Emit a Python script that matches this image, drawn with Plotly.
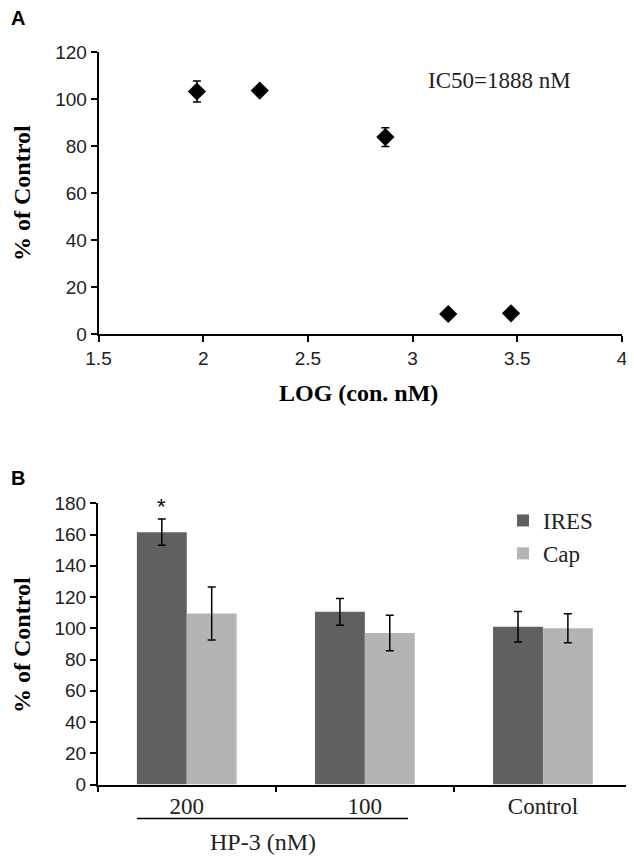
import plotly.graph_objects as go

# Panel A data
log_conc = [1.97, 2.27, 2.87, 3.17, 3.47]
pct_control_a = [103.2, 103.6, 83.8, 8.5, 8.8]
err_a = [4.5, 1.5, 4.0, 0.8, 0.8]
ic50_label = "IC50=1888 nM"

# Panel B data
categories_b = ["200", "100", "Control"]
ires_vals = [161.5, 110.5, 101.0]
ires_err = [8.4, 8.6, 9.8]
cap_vals = [109.5, 97.0, 100.0]
cap_err = [17.0, 11.4, 9.3]
series_names = ["IRES", "Cap"]

W, H = 634, 859
OFF = 8  # page body margin
def px(x):
    return (x - OFF) / W
def py(y):
    return 1 - (y - OFF) / H

SERIF = "Liberation Serif, Times New Roman, serif"
SANS = "Liberation Sans, Arial, sans-serif"
IRES_C = "#606060"
CAP_C = "#b4b4b4"

fig = go.Figure()

fig.add_trace(go.Scatter(
    x=log_conc, y=pct_control_a, mode="markers",
    marker=dict(symbol="diamond", size=14, color="black"),
    error_y=dict(type="data", array=err_a, color="black", thickness=1.5, width=4),
    xaxis="x", yaxis="y", showlegend=False))

fig.add_trace(go.Bar(
    x=categories_b, y=ires_vals, name=series_names[0], marker=dict(color=IRES_C, line=dict(width=0)),
    error_y=dict(type="data", array=ires_err, color="black", thickness=1.5, width=4),
    xaxis="x2", yaxis="y2"))
fig.add_trace(go.Bar(
    x=categories_b, y=cap_vals, name=series_names[1], marker=dict(color=CAP_C, line=dict(width=0)),
    error_y=dict(type="data", array=cap_err, color="black", thickness=1.5, width=4),
    xaxis="x2", yaxis="y2"))

axis_common = dict(showgrid=False, zeroline=False, showline=True, linecolor="black", linewidth=1.5,
                   ticks="outside", ticklen=6, tickwidth=1.5, tickcolor="black", automargin=False,
                   tickfont=dict(family=SANS, size=19, color="#222"))

fig.update_layout(
    width=W, height=H, margin=dict(l=0, r=0, t=0, b=0, autoexpand=False),
    paper_bgcolor="white", plot_bgcolor="white",
    barmode="group", bargap=0.44, bargroupgap=0,
    xaxis=dict(domain=[px(98.5), px(622)], range=[1.5, 4], dtick=0.5, tick0=1.5,
               anchor="y", **axis_common),
    yaxis=dict(domain=[py(334), py(52)], range=[0, 120], dtick=20, anchor="x", **axis_common),
    xaxis2=dict(domain=[px(97.7), px(632)], anchor="y2", type="category", tickson="boundaries",
                range=[-0.5, len(categories_b) - 0.5],
                **{**axis_common, "tickfont": dict(family=SERIF, size=23, color="#222")}),
    yaxis2=dict(domain=[py(784.5), py(503.3)], range=[0, 180], dtick=20, anchor="x2", **axis_common),
    legend=dict(x=px(503), y=py(499), xanchor="left", yanchor="top",
                font=dict(family=SERIF, size=23, color="#222"), bgcolor="rgba(0,0,0,0)",
                tracegroupgap=4, itemwidth=30),
    showlegend=True,
)

def note(text, x, y, size, family=SERIF, color="#222", xanchor="center", yanchor="middle", **kw):
    return dict(text=text, x=px(x), y=py(y), xref="paper", yref="paper", showarrow=False,
                xanchor=xanchor, yanchor=yanchor, font=dict(family=family, size=size, color=color), **kw)

annotations = [
    note("<b>A</b>", 9, 18, 20, family=SANS, color="black", xanchor="left"),
    note("<b>B</b>", 9, 478, 20, family=SANS, color="black", xanchor="left"),
    note("<b>% of Control</b>", 22, 193, 24, color="black", textangle=-90),
    note("<b>% of Control</b>", 22, 645, 24, color="black", textangle=-90),
    note("<b>LOG (con. nM)</b>", 358, 393, 24, color="black"),
    note(ic50_label, 426, 80, 23, xanchor="left"),
    note("HP-3 (nM)", 263, 842, 24),
    dict(text="*", x=categories_b.index("200"), y=ires_vals[0] + ires_err[0], xref="x2", yref="y2",
         xshift=-25, yshift=-2, yanchor="bottom", xanchor="center", showarrow=False,
         font=dict(family=SANS, size=22, color="black")),
]
fig.update_layout(annotations=annotations)

fig.add_shape(type="line", xref="paper", yref="paper", x0=px(137), x1=px(408),
              y0=py(818.5), y1=py(818.5), line=dict(color="black", width=1.5))

fig.write_html("out.html")
